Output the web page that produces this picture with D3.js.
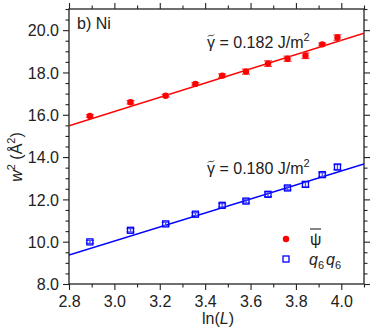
<!DOCTYPE html>
<html><head><meta charset="utf-8">
<script src="https://cdn.jsdelivr.net/npm/d3@7"></script>
<style>body{margin:0;background:#fff}svg{display:block;font-family:"Liberation Sans",Arial,sans-serif}</style>
</head><body><svg id="c" width="374" height="329"></svg>
<script>
const lnL = [2.892, 3.071, 3.226, 3.357, 3.475, 3.580, 3.677, 3.763, 3.842, 3.916, 3.983];
const psiW2 = [15.94, 16.59, 16.90, 17.46, 17.85, 18.04, 18.42, 18.65, 18.79, 19.33, 19.65];
const psiErr = [0.06, 0.08, 0.06, 0.06, 0.08, 0.12, 0.13, 0.12, 0.13, 0.06, 0.13];
const q6W2 = [9.99, 10.54, 10.84, 11.30, 11.72, 11.92, 12.24, 12.54, 12.71, 13.17, 13.53];
const q6Err = [0.07, 0.08, 0.08, 0.07, 0.08, 0.09, 0.11, 0.09, 0.12, 0.09, 0.12];
const fitX = [2.8, 4.1];
const psiFit = [15.48, 19.85];
const q6Fit = [9.37, 13.67];
const xTicks = [2.8, 3.0, 3.2, 3.4, 3.6, 3.8, 4.0];
const yTicks = [8, 10, 12, 14, 16, 18, 20];
const xDomain = [2.8, 4.1];
const yDomain = [8, 21];

const L = 69, R = 364, T = 9, B = 284;
const svg = d3.select("#c");
const x = d3.scaleLinear().domain(xDomain).range([L, R]);
const y = d3.scaleLinear().domain(yDomain).range([B, T]);
const xMinor = d3.range(28, 42).map(v => v / 10).filter(v => !xTicks.some(t => Math.abs(t - v) < 1e-6));
const yMinor = d3.range(16, 43).map(v => v / 2).filter(v => !yTicks.includes(v));
const ink = "#222";

function ax(gen, tr, vals, size, fmt) {
  const g = svg.append("g").attr("transform", tr)
    .call(gen.tickValues(vals).tickSize(size).tickSizeOuter(0).tickFormat(fmt || (() => "")));
  g.select(".domain").remove();
  g.selectAll("line").attr("stroke", ink).attr("stroke-width", 1.1);
  g.selectAll("text").attr("font-size", 16).attr("fill", ink).attr("font-family", "Liberation Sans, Arial, sans-serif");
  return g;
}
const f1 = d3.format(".1f");
const bx = ax(d3.axisBottom(x), `translate(0,${B})`, xTicks, 6, f1);
bx.selectAll("text").attr("y", 0).attr("dy", 0).attr("transform", "translate(0,22.5)");
ax(d3.axisBottom(x), `translate(0,${B})`, xMinor, 3.5);
ax(d3.axisTop(x), `translate(0,${T})`, xTicks, 6);
ax(d3.axisTop(x), `translate(0,${T})`, xMinor, 3.5);
const ly = ax(d3.axisLeft(y), `translate(${L},0)`, yTicks, 6, f1);
ly.selectAll("text").attr("x", -10).attr("dy", "0.36em");
ax(d3.axisLeft(y), `translate(${L},0)`, yMinor, 3.5);
ax(d3.axisRight(y), `translate(${R},0)`, yTicks, 6);
ax(d3.axisRight(y), `translate(${R},0)`, yMinor, 3.5);

svg.append("rect").attr("x", L).attr("y", T).attr("width", R - L).attr("height", B - T)
  .attr("fill", "none").attr("stroke", ink).attr("stroke-width", 1.3);

svg.append("defs").append("clipPath").attr("id", "pc")
  .append("rect").attr("x", L).attr("y", T).attr("width", R - L).attr("height", B - T);
const plot = svg.append("g").attr("clip-path", "url(#pc)");

function series(vals, errs, fit, color, errColor, marker) {
  plot.append("line").attr("x1", x(fitX[0])).attr("x2", x(fitX[1]))
    .attr("y1", y(fit[0])).attr("y2", y(fit[1])).attr("stroke", color).attr("stroke-width", 1.5);
  const g = plot.append("g");
  lnL.forEach((lx, i) => {
    const cx = x(lx), v = vals[i], e = errs[i];
    g.append("line").attr("x1", cx).attr("x2", cx).attr("y1", y(v - e)).attr("y2", y(v + e))
      .attr("stroke", errColor).attr("stroke-width", 1.3);
    [v - e, v + e].forEach(w => g.append("line").attr("x1", cx - 4).attr("x2", cx + 4)
      .attr("y1", y(w)).attr("y2", y(w)).attr("stroke", errColor).attr("stroke-width", 1.3));
    if (marker === "circle") {
      g.append("circle").attr("cx", cx).attr("cy", y(v)).attr("r", 3.2).attr("fill", color);
    } else {
      g.append("rect").attr("x", cx - 3).attr("y", y(v) - 3).attr("width", 6).attr("height", 6)
        .attr("fill", "none").attr("stroke", color).attr("stroke-width", 1.3);
    }
  });
}
series(psiW2, psiErr, psiFit, "#ff0000", "#f04848", "circle");
series(q6W2, q6Err, q6Fit, "#0000ff", "#4a4aff", "square");

function gammaText(yy, val) {
  const t = svg.append("text").attr("x", 207).attr("y", yy).attr("font-size", 16).attr("fill", ink);
  t.append("tspan").text("\u03B3 = " + val + " J/m");
  t.append("tspan").attr("dy", -7).attr("font-size", 11).text("2");
  const cx = 211, ty = yy - 12.5;
  svg.append("path")
    .attr("d", `M${cx - 3},${ty + 1} C${cx - 1.5},${ty - 1.8} ${cx + 1.5},${ty + 1.8} ${cx + 3},${ty - 1}`)
    .attr("fill", "none").attr("stroke", ink).attr("stroke-width", 0.9);
}
gammaText(48, "0.182");
gammaText(174, "0.180");

svg.append("text").attr("x", 77).attr("y", 29).attr("font-size", 16).attr("fill", ink).text("b) Ni");

// x label
const xl = svg.append("text").attr("x", 218).attr("y", 323.5).attr("text-anchor", "middle")
  .attr("font-size", 16).attr("fill", ink);
xl.append("tspan").text("ln(");
xl.append("tspan").attr("font-style", "italic").text("L");
xl.append("tspan").text(")");

// y label
const yl = svg.append("text").attr("transform", "translate(22,157) rotate(-90)")
  .attr("text-anchor", "middle").attr("font-size", 16).attr("fill", ink);
yl.append("tspan").attr("font-style", "italic").text("w");
yl.append("tspan").attr("dy", -7).attr("font-size", 11).text("2");
yl.append("tspan").attr("dy", 7).text(" (\u00C5");
yl.append("tspan").attr("dy", -7).attr("font-size", 11).text("2");
yl.append("tspan").attr("dy", 7).text(")");

// legend
svg.append("circle").attr("cx", 286).attr("cy", 239).attr("r", 3.2).attr("fill", "#ff0000");
svg.append("text").attr("x", 310).attr("y", 245).attr("font-size", 16).attr("fill", ink).text("\u03C8");
svg.append("line").attr("x1", 310).attr("x2", 321).attr("y1", 229).attr("y2", 229).attr("stroke", ink).attr("stroke-width", 1.1);
svg.append("rect").attr("x", 283).attr("y", 256).attr("width", 6).attr("height", 6)
  .attr("fill", "none").attr("stroke", "#0000ff").attr("stroke-width", 1.3);
const lq = svg.append("text").attr("x", 309).attr("y", 265).attr("font-size", 16).attr("fill", ink);
lq.append("tspan").attr("font-style", "italic").text("q");
lq.append("tspan").attr("dy", 4).attr("font-size", 11).text("6");
lq.append("tspan").attr("dy", -4).attr("dx", 2).attr("font-style", "italic").text("q");
lq.append("tspan").attr("dy", 4).attr("font-size", 11).text("6");
</script></body></html>
